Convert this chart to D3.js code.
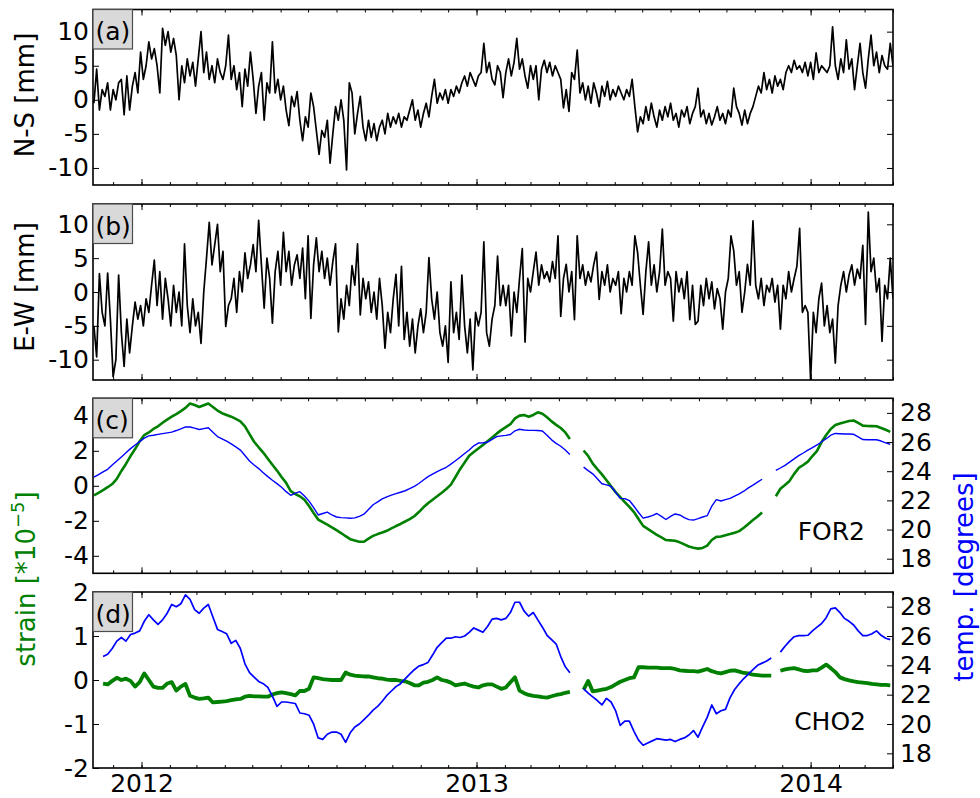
<!DOCTYPE html>
<html><head><meta charset="utf-8">
<script src="https://cdn.jsdelivr.net/npm/d3@7"></script>
<style>body{margin:0;background:#fff} text{font-family:"DejaVu Sans",sans-serif}</style>
</head><body><svg id="c" width="980" height="798"></svg>
<script>
// ---- data ----
// (a) N-S [mm], every 3 days from 2011-11-10
const nsData = [
-0.5,4.5,-1.5,1.5,0.5,2.5,-1.5,1.5,0,2.5,
3,-2.2,3.5,-1.5,2,4,1,7,3,5,
8.5,6,7.5,5,1,10.5,8,10,7,9,
6.5,0,5,2.5,6,3.5,5.5,2,6,10,
4,7,3,5,2.5,6,4,3,5,9.5,
3,5,1.5,4,-1,4.5,2,7,3,-2,
2,4,-3,2.5,1,8.5,1,3,0,2,
-1.5,-3.8,0.5,-1,1.2,-3,-6,-2.5,-4,1,
-1,-4.5,-8,-4.5,-5.5,-3,-9.3,-5,-1,-3,
0,-3,-10.3,2.5,1,-5,-2,0.5,-4,-6,
-3,-5.5,-3.5,-6,-4,-3,-5,-2,-4,-2.5,
-3.5,-2,-4,-2.5,-3,-1.5,0,-3,-1.5,-4,
-2,-0.5,-2.5,0.5,3,-0.5,1,0,1.5,-0.5,
1.5,0.5,2,1,2.5,3.5,2,4,3,2,
3.5,4,8.3,4,5.5,3,2.2,5,4,0.3,
4,6,3.5,5.5,9,4.5,6,3.5,1.7,5,
3,5,0,4.5,5.8,4,5.5,3.5,5,4,
3,-1.2,1.5,-1.7,4,3,7.3,1,2.5,0,
2,-0.5,2.5,1,-1,2,0.5,2.7,0,1.5,
0.5,2,1,0,1.5,0.5,3,-1,-4.7,-2.5,
-3.5,-1,-3,-0.5,-2.5,-4,-1.5,-3,-1,-2.5,
-0.5,-3,-2,-4,-1.5,-2.5,-1,-3.5,-2,-1,
1.7,-2.5,-1.5,-3.5,-2,-3.7,-2.5,-1,-3,-2,
-3.5,-1.5,-2.5,1.7,-1,-2,-3.7,-1.5,-3.5,-2,
-1,0.5,2,1,4,1.5,3,1,3.5,2,
3,1.5,4,5,4,5.8,4.5,5,4,5.5,
3.5,5.5,3,6.9,4,5,4.5,4,5,10.7,
5,3,6,4,8.8,4.5,6,1.5,5,8.3,
4,1.7,6,9.5,5,7,4,6.5,5,4.5,8.3,5];
// (b) E-W [mm], every 3 days from 2011-11-10
const ewData = [
-5,-9.6,2.7,-3,-5,2.8,-4,-12.5,-10,2.5,
-6,-11,-4,-9,-5,-1.5,-4,-2,-5,-1,
-3,1,4.7,-2,3,-4,2,-1,-5,1,
-3,0,-5,7.1,-2,-6,-1,-5,-3,-7.6,
0,5,10.3,4,7,10,3,6,-5.1,-2,
-1,2,-3,3,0,5.8,2,4,7,3,
10.6,4,-2.4,5,2,-4.6,3,6,1,8.8,
3,6,1,4,5.5,2,6.5,-1,8.3,-3.9,
4,8,3,6,2,5,1,4.5,7.1,-5.9,
-1,-4,1,-2,3.9,1,7.1,-3.4,2,-1,
1.5,-3,0,-4,2,-2,-8.3,-3,-6,-1,
2.6,-5,3.8,-7,-3,-8,-4,-9,-5,-2.5,
-6,-3,5.1,-1,-4,0,-6,-8,-5,-10.4,
1.5,-6,-3,-7,2.5,-5,-9,-4,-11.5,-3,
-5,-3,7.4,-6,-8,-4,-2,5.3,-2,1,
-2,1,-6.5,0,-3,2,6.4,-7.4,2,0,
3,5.9,1,4,2,3,1.5,4.5,2,8.3,
-3.6,2,4.1,0,3,-4.1,8.3,2,4,1,
3,1.5,4,5.9,-1.1,3,1,4,0,2,
1,3,-3.2,2,0,3,1,8.3,5.8,1,
-3.3,3,7.4,1,4,0,3,9.3,1,3,
2,-4.3,3,0,2,-1,3,-4.1,1,-4.8,
-4.3,1,-2,2,-1,1.5,-2.5,0.5,-1,-5.5,
0,2,8.3,6.1,1,3,-3,0,4.1,1,
10.5,1,-1,2,-2,1,0,2,-1.5,1,
-5.5,1,-1,3,0,2,3.8,9.4,-3,-2,
-3,-13,-3,-6,-1,1.3,-5,-2,-6,-4,
-10.5,-2,1,3,0,2.5,4,1,3.4,2,
6.9,-4.8,11.8,3,5,0,2,-7.3,1,-1,5,-1];
// (c) FOR2 strain [*1e-5] and temperature [deg], every 5 days from 2011-11-10
const forStrain = [
-0.55,-0.4,-0.25,-0.08,0.1,0.4,0.85,1.25,1.7,2.1,
2.55,2.9,3.05,3.25,3.4,3.6,3.78,3.95,4.1,4.27,
4.45,4.7,4.62,4.5,4.6,4.7,4.5,4.3,4.15,4.05,
3.95,3.82,3.68,3.4,2.95,2.52,2.2,1.9,1.55,1.2,
0.87,0.5,0.17,-0.3,-0.47,-0.6,-0.8,-1.15,-1.55,-1.93,
-2.08,-2.22,-2.37,-2.53,-2.7,-2.88,-3.05,-3.13,-3.2,-3.2,
-3.02,-2.86,-2.76,-2.67,-2.57,-2.43,-2.3,-2.18,-2.04,-1.9,
-1.74,-1.5,-1.23,-1.0,-0.8,-0.6,-0.4,-0.18,0.07,0.5,
0.95,1.33,1.72,1.93,2.13,2.33,2.55,2.76,2.98,3.18,
3.35,3.52,3.85,4.01,4.04,3.95,4.05,4.2,4.12,3.92,
3.68,3.48,3.3,3.05,2.68,null,null,2.02,1.7,1.27,
0.95,0.65,0.32,-0.03,-0.36,-0.65,-0.93,-1.2,-1.5,-1.9,
-2.29,-2.46,-2.63,-2.8,-2.95,-3.1,-3.12,-3.14,-3.23,-3.35,
-3.47,-3.54,-3.59,-3.55,-3.42,-3.1,-2.92,-2.9,-2.83,-2.76,
-2.68,-2.59,-2.4,-2.18,-1.96,-1.75,-1.52,null,null,-0.6,
-0.17,0.05,0.28,0.68,1.02,1.19,1.38,1.7,2.0,2.5,
2.9,3.25,3.47,3.56,3.63,3.7,3.73,3.6,3.44,3.42,
3.41,3.4,3.3,3.2,3.08];
const forTemp = [
23.6,23.77,23.95,24.13,24.42,24.7,24.98,25.26,25.55,25.8,
26.03,26.27,26.42,26.47,26.53,26.58,26.63,26.68,26.79,26.91,
27.04,27.03,26.95,26.86,26.92,26.98,26.68,26.38,26.22,26.06,
25.88,25.67,25.45,25.08,24.7,24.43,24.18,23.9,23.63,23.38,
23.15,22.9,22.6,22.35,22.5,22.6,22.3,21.95,21.5,21.0,
21.1,21.2,21.0,20.86,20.82,20.8,20.77,20.8,20.9,21.05,
21.38,21.7,21.9,22.1,22.24,22.36,22.46,22.56,22.66,22.8,
22.96,23.16,23.4,23.63,23.8,23.97,24.12,24.27,24.49,24.72,
24.96,25.21,25.46,25.74,25.93,25.95,25.99,26.18,26.37,26.42,
26.46,26.52,26.77,26.88,26.83,26.8,26.8,26.79,26.76,26.47,
26.15,25.91,25.71,25.46,25.14,null,null,24.28,24.04,23.82,
23.48,23.14,23.06,22.97,22.55,22.14,22.12,21.99,21.6,21.17,
20.78,20.86,20.96,21.1,20.9,20.69,20.9,21.07,21.0,20.82,
20.68,20.65,20.75,20.86,20.95,21.6,22.05,21.96,22.05,22.14,
22.3,22.45,22.63,22.86,23.05,23.25,23.45,null,null,24.05,
24.22,24.4,24.62,24.85,25.07,25.25,25.44,25.62,25.8,26.02,
26.23,26.47,26.59,26.57,26.55,26.55,26.53,26.35,26.17,26.16,
26.16,26.16,26.07,25.95,25.84];
// (d) CHO2 strain and temperature, every 5 days from 2011-11-10
const choStrain = [
null,null,-0.08,-0.1,-0.02,0.05,0.0,0.03,-0.02,-0.15,
-0.05,0.15,0.0,-0.15,-0.18,-0.18,-0.08,-0.05,-0.24,-0.15,
-0.09,-0.36,-0.4,-0.43,-0.42,-0.4,-0.51,-0.5,-0.49,-0.48,
-0.46,-0.44,-0.43,-0.38,-0.36,-0.37,-0.37,-0.38,-0.38,-0.33,
-0.3,-0.28,-0.3,-0.32,-0.35,-0.25,-0.25,-0.2,0.06,0.04,
0.02,0.01,0.0,0.0,0.0,0.17,0.12,0.1,0.09,0.08,
0.08,0.06,0.04,0.03,0.01,0.0,0.0,-0.02,-0.03,-0.07,
-0.12,-0.12,-0.06,-0.04,0.0,0.06,0.0,-0.02,-0.06,-0.12,
-0.1,-0.08,-0.12,-0.15,-0.17,-0.12,-0.1,-0.1,-0.15,-0.2,
-0.17,-0.05,0.06,-0.24,-0.3,-0.34,-0.36,-0.37,-0.39,-0.4,
-0.37,-0.34,-0.32,-0.29,-0.27,null,null,-0.22,-0.02,-0.26,
-0.24,-0.22,-0.2,-0.16,-0.1,-0.04,0.0,0.04,0.06,0.29,
0.29,0.28,0.28,0.28,0.27,0.27,0.27,0.25,0.22,0.21,
0.2,0.2,0.19,0.22,0.25,0.2,0.17,0.15,0.18,0.21,
0.22,0.19,0.16,0.15,0.12,0.11,0.1,0.1,0.1,null,
0.21,0.24,0.26,0.27,0.24,0.21,0.2,0.22,0.22,0.28,
0.35,0.27,0.18,0.06,0.02,-0.01,-0.03,-0.05,-0.06,-0.07,
-0.09,-0.1,-0.11,-0.11,-0.12];
const choTemp = [
null,null,24.6,24.75,25.15,25.65,25.9,25.65,26.1,26.2,
26.35,27.0,27.45,27.1,26.8,27.1,27.55,28.15,28.0,28.2,
28.8,28.5,27.8,27.55,27.9,28.15,27.3,26.45,26.3,26.15,
25.5,25.7,25.15,24.1,23.5,23.2,22.9,22.75,22.5,21.9,
21.2,21.5,21.5,21.45,21.4,20.75,20.7,20.6,20.0,19.05,
18.95,19.3,19.45,19.45,19.3,18.75,19.4,19.8,20.0,20.3,
20.6,20.95,21.2,21.55,21.95,22.25,22.55,22.75,23.08,23.4,
23.7,23.95,24.05,24.2,24.7,25.23,25.55,25.85,25.85,25.95,
25.9,26.0,26.25,26.55,26.4,26.25,26.65,27.15,27.2,27.1,
27.2,27.6,28.3,28.3,27.7,27.35,27.6,27.1,26.6,26.05,
25.75,25.45,24.6,23.9,23.5,null,null,22.4,22.1,21.85,
21.6,21.3,21.75,21.5,20.9,19.9,20.2,20.2,19.5,18.9,
18.55,18.7,18.85,19.0,18.95,18.9,18.95,18.8,18.95,19.05,
19.25,19.55,19.1,19.8,20.45,21.3,20.7,20.9,21.0,21.8,
22.35,22.75,23.1,23.4,23.7,24.0,24.15,24.3,24.5,null,
24.9,25.3,25.65,25.95,26.03,26.03,26.05,26.35,26.6,26.85,
27.25,27.85,27.92,27.6,27.2,27.0,26.75,26.35,26.03,26.03,
26.15,26.35,26.05,25.85,25.75];

const panelLabels = ["(a)","(b)","(c)","(d)"];
const yLabels = ["N-S [mm]","E-W [mm]"];
const stationNames = ["FOR2","CHO2"];
const mmTicks = [-10,-5,0,5,10];
const forTicks = [-4,-2,0,2,4];
const choTicks = [-2,-1,0,1,2];
const tempTicks = [18,20,22,24,26,28];
const startDate = Date.UTC(2011,10,10);

// ---- layout ----
const X0 = 93, X1 = 893;
const panels = [
  {top: 9.5, bottom: 185, dom: [-12.5, 13.25], ticks: mmTicks},
  {top: 204, bottom: 380, dom: [-13, 13], ticks: mmTicks},
  {top: 398.3, bottom: 573.3, dom: [-5, 5], ticks: forTicks},
  {top: 592, bottom: 768, dom: [-2, 2], ticks: choTicks}
];
const FS = 25, LFS = 26;
const GREEN = "#008000", BLUE = "#0000ff";

const svg = d3.select("#c");
const x = d3.scaleUtc().domain([Date.UTC(2011,10,9), Date.UTC(2014,3,1)]).range([X0, X1]);

function series(vals, stepDays) {
  return vals.map((v, i) => ({t: new Date(startDate + i * stepDays * 864e5), v}));
}

const defs = svg.append("defs");

panels.forEach((p, k) => {
  p.y = d3.scaleLinear().domain(p.dom).range([p.bottom, p.top]);
  defs.append("clipPath").attr("id", "clip" + k)
    .append("rect").attr("x", X0).attr("y", p.top).attr("width", X1 - X0).attr("height", p.bottom - p.top);
});

function styleAxis(g, labels) {
  g.select(".domain").remove();
  g.selectAll(".tick line").attr("stroke", "#000").attr("stroke-width", 1);
  g.attr("font-size", FS).attr("font-family", "DejaVu Sans");
  g.selectAll("text").attr("fill", "#000");
  if (!labels) g.selectAll("text").remove();
}

function drawLine(k, data, yScale, color, width) {
  const line = d3.line().defined(d => d.v != null)
    .x(d => x(d.t)).y(d => yScale(d.v));
  svg.append("path").datum(data)
    .attr("clip-path", "url(#clip" + k + ")")
    .attr("fill", "none").attr("stroke", color).attr("stroke-width", width)
    .attr("stroke-linejoin", "round").attr("d", line);
}

// data lines
drawLine(0, series(nsData, 3), panels[0].y, "#000", 1.7);
drawLine(1, series(ewData, 3), panels[1].y, "#000", 1.7);
const tempY = panels.map(p => d3.scaleLinear().domain([17, 29]).range([p.bottom, p.top]));
drawLine(2, series(forStrain, 5), panels[2].y, GREEN, 2.6);
drawLine(2, series(forTemp, 5), tempY[2], BLUE, 1.4);
drawLine(3, series(choStrain, 5), panels[3].y, GREEN, 3.8);
drawLine(3, series(choTemp, 5), tempY[3], BLUE, 1.7);

// axes
panels.forEach((p, k) => {
  const last = k === panels.length - 1;
  const gb = svg.append("g").attr("transform", `translate(0,${p.bottom})`)
    .call(d3.axisBottom(x).ticks(d3.utcYear.every(1)).tickFormat(d3.utcFormat("%Y")).tickSize(-6).tickPadding(6));
  styleAxis(gb, last);
  const gbm = svg.append("g").attr("transform", `translate(0,${p.bottom})`)
    .call(d3.axisBottom(x).ticks(d3.utcMonth.every(1)).tickSize(-3).tickFormat(""));
  styleAxis(gbm, false);
  const gt = svg.append("g").attr("transform", `translate(0,${p.top})`)
    .call(d3.axisTop(x).ticks(d3.utcYear.every(1)).tickSize(-6));
  styleAxis(gt, false);
  const gtm = svg.append("g").attr("transform", `translate(0,${p.top})`)
    .call(d3.axisTop(x).ticks(d3.utcMonth.every(1)).tickSize(-3).tickFormat(""));
  styleAxis(gtm, false);
  const gl = svg.append("g").attr("transform", `translate(${X0},0)`)
    .call(d3.axisLeft(p.y).tickValues(p.ticks).tickFormat(d => String(d)).tickSize(-6).tickPadding(4));
  styleAxis(gl, true);
  if (k < 2) {
    const gr = svg.append("g").attr("transform", `translate(${X1},0)`)
      .call(d3.axisRight(p.y).tickValues(p.ticks).tickSize(-6));
    styleAxis(gr, false);
  } else {
    const gr = svg.append("g").attr("transform", `translate(${X1},0)`)
      .call(d3.axisRight(tempY[k]).tickValues(tempTicks).tickFormat(d => String(d)).tickSize(-6).tickPadding(7));
    styleAxis(gr, true);
  }
  svg.append("rect").attr("x", X0).attr("y", p.top).attr("width", X1 - X0).attr("height", p.bottom - p.top)
    .attr("fill", "none").attr("stroke", "#000").attr("stroke-width", 1.6);
  svg.append("rect").attr("x", X0).attr("y", p.top).attr("width", 39.5).attr("height", 39.5)
    .attr("fill", "#d9d9d9").attr("stroke", "#4d4d4d").attr("stroke-width", 1.2);
  svg.append("text").attr("x", X0 + 2.5).attr("y", p.top + 30.5)
    .attr("font-size", FS).attr("fill", "#000").text(panelLabels[k]);
});

// station names
svg.append("text").attr("x", 865).attr("y", 540).attr("text-anchor", "end")
  .attr("font-size", FS).text(stationNames[0]);
svg.append("text").attr("x", 866).attr("y", 730).attr("text-anchor", "end")
  .attr("font-size", FS).text(stationNames[1]);

// axis labels
svg.append("text").attr("transform", "translate(34,95) rotate(-90)").attr("text-anchor", "middle")
  .attr("font-size", LFS).text(yLabels[0]);
svg.append("text").attr("transform", "translate(34,287) rotate(-90)").attr("text-anchor", "middle")
  .attr("font-size", LFS).text(yLabels[1]);
const st = svg.append("text").attr("transform", "translate(35,579) rotate(-90)").attr("text-anchor", "middle")
  .attr("font-size", LFS).attr("fill", GREEN);
st.append("tspan").text("strain [*10");
st.append("tspan").attr("dy", -11).attr("font-size", 18).text("\u22125");
st.append("tspan").attr("dy", 11).text("]");
svg.append("text").attr("transform", "translate(973,577) rotate(-90)").attr("text-anchor", "middle")
  .attr("font-size", LFS).attr("fill", BLUE).text("temp. [degrees]");
</script></body></html>
